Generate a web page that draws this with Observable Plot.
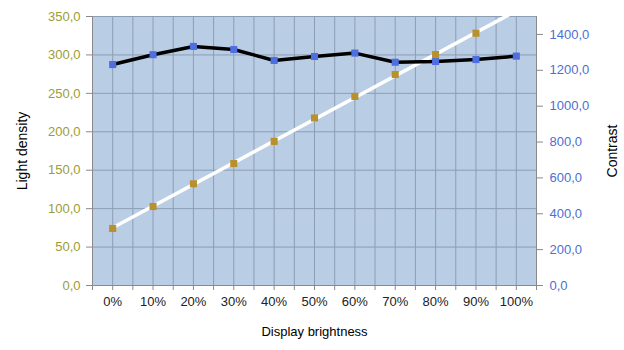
<!DOCTYPE html>
<html>
<head>
<meta charset="utf-8">
<script src="https://cdn.jsdelivr.net/npm/d3@7"></script>
<script src="https://cdn.jsdelivr.net/npm/@observablehq/plot@0.6"></script>
<style>
  html, body { margin: 0; padding: 0; background: #fff; }
  #chart { width: 624px; height: 350px; }
</style>
</head>
<body>
<div id="chart"></div>
<script>
// Categories (x axis)
const brightness = ["0%", "10%", "20%", "30%", "40%", "50%", "60%", "70%", "80%", "90%", "100%"];
// Light density (left axis)
const lightDensity = [74.2, 102.8, 132.3, 158.7, 187.5, 218.0, 246.0, 274.5, 300.5, 328.3, 356.0];
// Contrast (right axis)
const contrast = [1232, 1287, 1333, 1316, 1255, 1277, 1296, 1245, 1249, 1260, 1279];
// Axis settings
const leftMax = 350;
const rightMax = 1500;
const leftTicks = [0, 50, 100, 150, 200, 250, 300, 350];
const rightTicks = [0, 200, 400, 600, 800, 1000, 1200, 1400];

const toLeft = v => v * leftMax / rightMax;
const fmt = v => v.toFixed(1).replace(".", ",");

const data = brightness.map((b, i) => ({i, b, ld: lightDensity[i], c: toLeft(contrast[i])}));
const halfSteps = d3.range(-0.5, brightness.length - 0.5 + 0.01, 0.5);
const idx = d3.range(brightness.length);

const plot = Plot.plot({
  width: 624,
  height: 350,
  marginLeft: 92,
  marginRight: 88,
  marginTop: 16,
  marginBottom: 65,
  style: {fontFamily: "'Liberation Sans', Arial, sans-serif", fontSize: "13px", background: "white", color: "#000"},
  x: {domain: [-0.5, brightness.length - 0.5], axis: null},
  y: {domain: [0, leftMax], axis: null},
  marks: [
    Plot.frame({fill: "#b9cde5", stroke: null}),
    Plot.gridX(halfSteps, {stroke: "#8d9db3", strokeOpacity: 1}),
    Plot.gridY(leftTicks, {stroke: "#8d9db3", strokeOpacity: 1}),
    Plot.axisY(leftTicks, {anchor: "left", tickSize: 6, tickPadding: 6, stroke: "#8a8a8a", fill: "#9c9c38", tickFormat: fmt, label: null}),
    Plot.axisY(rightTicks.map(toLeft), {anchor: "right", tickSize: 6, tickPadding: 7, stroke: "#8a8a8a", fill: "#4d6fd2", tickFormat: d => fmt(d * rightMax / leftMax), label: null}),
    Plot.axisX(halfSteps, {anchor: "bottom", tickSize: 5, stroke: "#8a8a8a", tickFormat: () => "", label: null}),
    Plot.axisX(idx, {anchor: "bottom", tickSize: 0, tickPadding: 11, tickFormat: i => brightness[i], label: null, fill: "#222"}),
    Plot.frame({anchor: "left", stroke: "#8a8a8a"}),
    Plot.frame({anchor: "right", stroke: "#8a8a8a"}),
    Plot.frame({anchor: "bottom", stroke: "#8a8a8a"}),
    // Light density trend (white)
    Plot.linearRegressionY(data, {x: "i", y: "ld", stroke: "white", strokeWidth: 3.5, ci: 0, clip: "frame"}),
    // Contrast line
    Plot.line(data, {x: "i", y: "c", stroke: "#000", strokeWidth: 3.5}),
    Plot.dot(data, {x: "i", y: "c", symbol: "square", r: 4, fill: "#4f6ee0", stroke: null}),
    Plot.dot(data, {x: "i", y: "ld", symbol: "square", r: 4, fill: "#b8902c", stroke: null, clip: "frame"}),
    // Axis titles
    Plot.text(["Light density"], {frameAnchor: "left", dx: -70, rotate: -90, textAnchor: "middle", fill: "#000", fontSize: 14}),
    Plot.text(["Contrast"], {frameAnchor: "right", dx: 76, rotate: -90, textAnchor: "middle", fill: "#000", fontSize: 14}),
    Plot.text(["Display brightness"], {frameAnchor: "bottom", dy: 50, fill: "#000", fontSize: 13})
  ]
});
document.getElementById("chart").appendChild(plot);
</script>
</body>
</html>
